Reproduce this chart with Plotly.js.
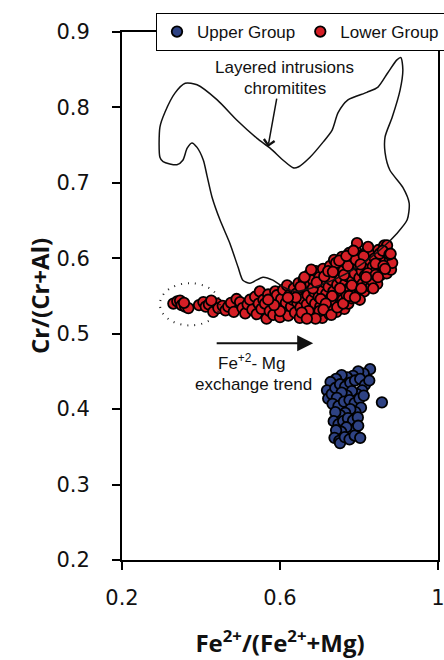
<!DOCTYPE html>
<html>
<head>
<meta charset="utf-8">
<script src="https://cdn.plot.ly/plotly-3.0.1.min.js"></script>
<style>html,body{margin:0;padding:0;background:#fff;}#chart{width:444px;height:660px;}</style>
</head>
<body>
<div id="chart"></div>
<script>
// Lower Group (red)
const lowerFe = [0.330,0.340,0.347,0.351,0.360,0.368,0.357,
0.395,0.406,0.412,0.420,0.431,0.440,0.444,0.426,
0.455,0.462,0.469,0.476,0.483,0.490,0.499,0.505,0.512,0.518,0.524,0.530,0.537,0.541,0.546,0.549,0.553,
0.558,0.562,0.566,0.570,0.574,0.579,0.583,0.588,0.592,0.596,0.600,0.603,0.608,0.611,0.615,0.618,0.621,0.625,0.628,0.632,0.635,0.638,0.641,0.644,0.647,0.650,0.652,0.655,
0.658,0.660,0.663,0.665,0.668,0.670,0.673,0.675,0.677,0.680,0.682,0.684,0.687,0.689,0.691,0.694,0.696,0.698,0.700,0.702,0.705,0.707,0.709,0.711,0.713,0.715,0.717,0.719,0.721,0.723,0.725,0.727,0.729,0.731,0.733,0.735,0.737,0.739,0.741,0.743,0.745,0.747,0.749,0.751,
0.753,0.755,0.757,0.759,0.761,0.763,0.765,0.767,0.769,0.771,0.773,0.775,0.777,0.779,0.781,0.783,0.785,0.787,0.789,0.791,0.793,0.795,0.797,0.799,0.801,0.803,0.805,0.807,0.809,0.811,0.813,0.815,0.818,0.820,0.822,0.825,0.828,0.830,0.833,0.835,0.838,0.840,0.843,0.846,0.849,
0.852,0.855,0.858,0.861,0.864,0.867,0.870,0.872,0.875,0.878,0.881,0.884,0.871,
0.640,0.652,0.662,0.672,0.683,0.693,0.703,0.712,0.722,0.732,0.742,0.752,0.762,0.772,0.782,0.792,0.802,0.812,0.822,0.832,0.842,0.852,0.862,
0.700,0.716,0.734,0.750,0.768,0.786,0.804,0.823,0.842,0.860,0.877,
0.690,0.710,0.730,0.745,0.760,0.775,0.790,0.806,0.818,0.836,0.848,0.866,0.880,
0.620,0.600,0.585,0.570,0.655,0.668,0.679];
const lowerCr = [0.540,0.543,0.544,0.538,0.536,0.534,0.541,
0.538,0.542,0.536,0.539,0.529,0.540,0.534,0.544,
0.537,0.531,0.536,0.541,0.529,0.546,0.542,0.534,0.527,0.539,0.545,0.532,0.549,0.526,0.540,0.556,0.533,
0.545,0.540,0.520,0.552,0.530,0.544,0.525,0.556,0.551,0.536,0.522,0.546,0.558,0.531,0.541,0.564,0.524,0.552,0.536,0.545,0.560,0.528,0.553,0.541,0.567,0.521,0.535,0.556,
0.546,0.572,0.529,0.560,0.539,0.551,0.578,0.524,0.565,0.545,0.533,0.571,0.555,0.540,0.583,0.527,0.562,0.549,0.575,0.536,0.558,0.521,0.586,0.544,0.568,0.531,0.553,0.579,0.540,0.562,0.526,0.590,0.548,0.571,0.535,0.556,0.598,0.543,0.581,0.529,0.565,0.550,0.588,0.538,
0.573,0.557,0.602,0.545,0.584,0.533,0.566,0.594,0.551,0.576,0.540,0.607,0.561,0.586,0.547,0.570,0.598,0.555,0.580,0.612,0.565,0.620,0.550,0.590,0.574,0.558,0.603,0.583,0.566,0.595,0.556,0.577,0.608,0.588,0.568,0.598,0.577,0.562,0.607,0.589,0.572,0.600,0.583,0.566,0.611,
0.595,0.578,0.604,0.587,0.617,0.596,0.580,0.609,0.591,0.600,0.585,0.594,0.617,
0.548,0.562,0.575,0.530,0.560,0.568,0.546,0.576,0.583,0.550,0.594,0.560,0.578,0.590,0.564,0.598,0.545,0.603,0.580,0.571,0.593,0.606,0.590,
0.530,0.540,0.582,0.597,0.603,0.610,0.592,0.615,0.578,0.610,0.605,
0.520,0.532,0.525,0.535,0.540,0.550,0.548,0.560,0.575,0.560,0.575,0.586,0.606,
0.548,0.530,0.538,0.545,0.528,0.520,0.585];

// Upper Group (blue)
const upperFe = [0.828,0.812,0.798,0.785,0.770,0.756,0.742,0.728,0.719,0.722,0.731,0.740,0.752,0.765,0.778,0.790,0.803,0.815,0.826,0.808,0.795,0.782,0.769,0.756,0.744,0.733,0.748,0.762,0.776,0.789,0.801,0.812,0.805,0.791,0.778,0.765,0.752,0.740,0.736,0.748,0.760,0.772,0.785,0.797,0.792,0.780,0.768,0.755,0.742,0.738,0.750,0.752,0.764,0.776,0.789,0.803,0.798,0.858];
const upperCr = [0.453,0.447,0.450,0.444,0.442,0.445,0.440,0.436,0.425,0.414,0.420,0.428,0.433,0.430,0.435,0.438,0.440,0.432,0.438,0.425,0.420,0.424,0.418,0.422,0.415,0.407,0.404,0.410,0.412,0.408,0.414,0.418,0.402,0.396,0.400,0.395,0.392,0.396,0.384,0.380,0.384,0.388,0.385,0.389,0.375,0.372,0.376,0.370,0.372,0.362,0.358,0.355,0.363,0.360,0.365,0.362,0.378,0.409];

// Layered intrusions chromitites field outline
const fieldFe = [0.360,0.390,0.441,0.491,0.542,0.575,0.608,0.633,0.646,0.676,0.709,0.732,0.747,0.772,0.820,0.848,0.873,0.896,0.906,0.911,0.904,0.884,0.866,0.866,0.878,0.911,0.927,0.922,0.896,0.853,0.795,0.734,0.676,0.638,0.608,0.582,0.557,0.524,0.506,0.494,0.473,0.448,0.428,0.415,0.406,0.390,0.377,0.365,0.354,0.339,0.304,0.296,0.296,0.309,0.334,0.360];
const fieldCr = [0.832,0.830,0.810,0.783,0.759,0.746,0.730,0.720,0.721,0.734,0.754,0.770,0.793,0.810,0.820,0.827,0.846,0.863,0.866,0.850,0.823,0.787,0.761,0.740,0.717,0.694,0.673,0.651,0.633,0.611,0.588,0.571,0.560,0.556,0.562,0.571,0.575,0.567,0.571,0.588,0.620,0.651,0.681,0.710,0.730,0.747,0.753,0.746,0.730,0.724,0.728,0.734,0.774,0.794,0.819,0.832];

const xTickVals = [0.2, 0.6, 1.0];
const xTickText = ['0.2', '0.6', '1'];
const yTickVals = [0.2, 0.3, 0.4, 0.5, 0.6, 0.7, 0.8, 0.9];
const yTickText = ['0.2', '0.3', '0.4', '0.5', '0.6', '0.7', '0.8', '0.9'];

const markerLine = {color: '#000', width: 1.8};
const traces = [
  {type: 'scatter', mode: 'markers', name: 'Upper Group', x: upperFe, y: upperCr,
   marker: {size: 10.5, color: '#2e4283', line: markerLine}},
  {type: 'scatter', mode: 'markers', name: 'Lower Group', x: lowerFe, y: lowerCr,
   marker: {size: 10.5, color: '#d51f26', line: markerLine}},
  {type: 'scatter', mode: 'lines', x: fieldFe, y: fieldCr, showlegend: false,
   line: {color: '#111', width: 1.5, shape: 'spline', smoothing: 0.7}, hoverinfo: 'skip'}
];

const tickFont = {family: 'DejaVu Sans', size: 21, color: '#111'};
const titleFont = {family: 'Open Sans', size: 24, color: '#111', weight: 700};
const annFont = {family: 'Liberation Sans', size: 17, color: '#111'};

const layout = {
  width: 444, height: 660,
  margin: {l: 122, r: 6, t: 32, b: 100, autoexpand: false},
  paper_bgcolor: '#fff', plot_bgcolor: '#fff',
  showlegend: true,
  xaxis: {
    range: [0.2, 1.0], tickvals: xTickVals, ticktext: xTickText,
    ticks: 'outside', ticklen: 8, tickwidth: 2, tickcolor: '#000',
    showline: true, linewidth: 2, linecolor: '#000', mirror: true,
    showgrid: false, zeroline: false, tickfont: tickFont, ticklabelstandoff: 10,
    ticklabeloverflow: 'allow',
    title: {text: 'Fe<sup>2+</sup>/(Fe<sup>2+</sup>+Mg)', font: titleFont, standoff: 26}
  },
  yaxis: {
    range: [0.2, 0.9], tickvals: yTickVals, ticktext: yTickText,
    ticks: 'outside', ticklen: 8, tickwidth: 2, tickcolor: '#000',
    showline: true, linewidth: 2, linecolor: '#000', mirror: true,
    showgrid: false, zeroline: false, tickfont: tickFont, ticklabelstandoff: 18,
    title: {text: 'Cr/(Cr+Al)', font: titleFont, standoff: 0}
  },
  legend: {
    orientation: 'h', x: 0.1076, xanchor: 'left', y: 1.036, yanchor: 'top',
    bgcolor: '#fff', bordercolor: '#000', borderwidth: 1,
    font: {family: 'Liberation Sans', size: 17, color: '#111'}
  },
  shapes: [
    {type: 'circle', xref: 'x', yref: 'y', x0: 0.296, x1: 0.448, y0: 0.511, y1: 0.567,
     line: {color: '#222', width: 2, dash: '1px,6px'}}
  ],
  annotations: [
    {text: 'Layered intrusions', x: 0.611, y: 0.8523, xref: 'x', yref: 'y', showarrow: false, font: annFont, xanchor: 'center', yanchor: 'middle'},
    {text: 'chromitites', x: 0.612, y: 0.8257, xref: 'x', yref: 'y', showarrow: false, font: annFont, xanchor: 'center', yanchor: 'middle'},
    {text: '', x: 0.5696, y: 0.7475, ax: 9, ay: -50, xref: 'x', yref: 'y', axref: 'pixel', ayref: 'pixel',
     showarrow: true, arrowhead: 4, arrowsize: 1.4, arrowwidth: 1.5, arrowcolor: '#111'},
    {text: '', x: 0.684, y: 0.4875, ax: -98, ay: 0, xref: 'x', yref: 'y', axref: 'pixel', ayref: 'pixel',
     showarrow: true, arrowhead: 2, arrowsize: 1.6, arrowwidth: 2, arrowcolor: '#111'},
    {text: 'Fe<sup>+2</sup>- Mg', x: 0.529, y: 0.4623, xref: 'x', yref: 'y', showarrow: false, font: annFont, xanchor: 'center', yanchor: 'middle'},
    {text: 'exchange trend', x: 0.532, y: 0.4332, xref: 'x', yref: 'y', showarrow: false, font: annFont, xanchor: 'center', yanchor: 'middle'}
  ]
};

Plotly.newPlot('chart', traces, layout, {staticPlot: true, displayModeBar: false});
</script>
</body>
</html>
